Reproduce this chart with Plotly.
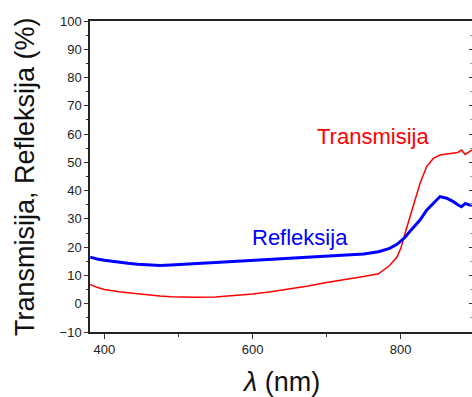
import plotly.graph_objects as go

# Wavelength (nm)
wavelength = [381, 390, 400, 410, 420, 432, 445, 460, 475, 490, 500, 525, 550, 575,
              600, 625, 650, 675, 700, 725, 750, 770, 785, 795, 800, 806, 812, 819,
              826, 835, 844, 853, 862, 871, 877, 882, 887, 893, 900]
# Transmission (%)
transmisija = [6.8, 5.8, 5.0, 4.5, 4.2, 3.9, 3.5, 3.1, 2.7, 2.5, 2.4, 2.3, 2.4, 2.8,
               3.4, 4.2, 5.2, 6.3, 7.5, 8.5, 9.6, 10.6, 13.5, 16.5, 19.5, 25.0, 30.5, 36.5,
               42.5, 48.5, 51.4, 52.6, 53.0, 53.2, 53.5, 54.4, 52.8, 53.8, 55.0]
# Reflection (%)
refleksija = [16.5, 15.8, 15.4, 15.0, 14.7, 14.3, 14.0, 13.7, 13.5, 13.7, 13.9, 14.2, 14.6, 15.0,
              15.3, 15.6, 16.0, 16.4, 16.8, 17.2, 17.6, 18.4, 19.6, 21.0, 22.0, 23.5, 25.5, 27.5,
              29.6, 33.1, 35.5, 37.9, 37.3, 36.1, 35.0, 34.3, 35.5, 34.9, 35.0]

FONT = "Liberation Sans, Arial, sans-serif"

fig = go.Figure()
fig.add_trace(go.Scatter(x=wavelength, y=transmisija, mode="lines",
                         line=dict(color="#ff0000", width=1.5), showlegend=False))
fig.add_trace(go.Scatter(x=wavelength, y=refleksija, mode="lines",
                         line=dict(color="#0000ff", width=3), showlegend=False))
# invisible trace to activate right mirrored tick axis
fig.add_trace(go.Scatter(x=wavelength[:1], y=refleksija[:1], mode="lines", yaxis="y2",
                         opacity=0, showlegend=False, hoverinfo="skip"))

fig.update_layout(
    width=472, height=397, autosize=False,
    margin=dict(l=90, r=0, t=21, b=65),
    plot_bgcolor="white", paper_bgcolor="white",
    font=dict(family=FONT, color="#222222"),
    xaxis=dict(range=[380.7, 896.2], tick0=400, dtick=200, ticks="outside", ticklen=5,
               tickwidth=1, tickcolor="#333", showline=True, linecolor="#222", linewidth=1.5,
               mirror=True, showgrid=False, zeroline=False,
               tickfont=dict(size=13, family=FONT, color="#222"),
               minor=dict(dtick=100, ticks="outside", ticklen=3, tickcolor="#333", showgrid=False)),
    yaxis=dict(range=[-10, 100], tick0=0, dtick=10, ticks="outside", ticklen=4,
               tickwidth=1, tickcolor="#333", showline=True, linecolor="#222", linewidth=1.5,
               mirror=False, showgrid=False, zeroline=False,
               tickfont=dict(size=13, family=FONT, color="#222"),
               minor=dict(dtick=5, ticks="outside", ticklen=2.5, tickcolor="#333", showgrid=False)),
    yaxis2=dict(range=[-10, 100], overlaying="y", side="right", tick0=0, dtick=10,
                ticks="inside", ticklen=3, tickcolor="#333", showticklabels=False,
                showline=False, showgrid=False, zeroline=False,
                minor=dict(dtick=5, ticks="inside", ticklen=2, tickcolor="#999", showgrid=False)),
)

fig.add_annotation(text="Transmisija", x=763, y=59.2, xref="x", yref="y",
                   showarrow=False, font=dict(size=22, color="#ff0000", family=FONT))
fig.add_annotation(text="Refleksija", x=663.7, y=23.6, xref="x", yref="y",
                   showarrow=False, font=dict(size=22, color="#0000ff", family=FONT))
fig.add_annotation(text="<i>λ</i> (nm)", x=0.5, y=0, xref="paper", yref="paper",
                   yanchor="middle", yshift=-50, showarrow=False,
                   font=dict(size=27, color="#111", family=FONT))
fig.add_annotation(text="Transmisija, Refleksija (%)", x=0, y=0.5, xref="paper", yref="paper",
                   xanchor="center", yanchor="middle", xshift=-65.5, textangle=-90,
                   showarrow=False, font=dict(size=27, color="#111", family=FONT))

fig.write_html("out.html", config={"displayModeBar": False},
               post_script="document.body.style.margin='0';document.body.style.overflow='hidden';")
